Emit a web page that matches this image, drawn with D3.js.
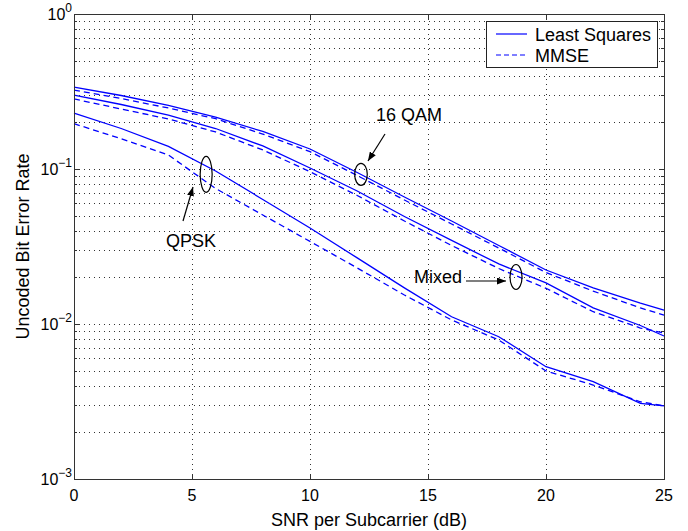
<!DOCTYPE html>
<html>
<head>
<meta charset="utf-8">
<script src="https://cdn.jsdelivr.net/npm/d3@7"></script>
<style>
  body { margin: 0; background: #fff; }
  text { font-family: "Liberation Sans", Arial, Helvetica, sans-serif; fill: #000; }
</style>
</head>
<body>
<svg id="chart" width="688" height="531"></svg>
<script>
// SNR sample points (dB)
const snr = [0, 2, 4, 6, 8, 10, 12, 14, 16, 18, 20, 22, 24, 25];

// Uncoded BER, 16 QAM
const qam16LS   = [0.338, 0.298, 0.257, 0.216, 0.1746, 0.1346, 0.0949, 0.0660, 0.0462, 0.0321, 0.0223, 0.0171, 0.01365, 0.0123];
const qam16MMSE = [0.323, 0.285, 0.2475, 0.211, 0.168, 0.1293, 0.0908, 0.0631, 0.0442, 0.0309, 0.0215, 0.0163, 0.0127, 0.0114];

// Uncoded BER, mixed modulation
const mixedLS   = [0.300, 0.2607, 0.223, 0.1825, 0.1408, 0.1015, 0.0721, 0.0494, 0.0346, 0.0244, 0.0184, 0.0127, 0.00978, 0.00837];
const mixedMMSE = [0.283, 0.2438, 0.2103, 0.1733, 0.1327, 0.0961, 0.0675, 0.0462, 0.0321, 0.0228, 0.0170, 0.0120, 0.00942, 0.00875];

// Uncoded BER, QPSK
const qpskLS    = [0.2297, 0.1825, 0.1400, 0.0971, 0.0636, 0.0416, 0.0267, 0.0171, 0.01114, 0.00828, 0.00530, 0.00425, 0.00308, 0.00296];
const qpskMMSE  = [0.1960, 0.1568, 0.1231, 0.0749, 0.0505, 0.0341, 0.0230, 0.01538, 0.01062, 0.00788, 0.00498, 0.00404, 0.00315, 0.00296];

// Axis ticks
const xTicks = [0, 5, 10, 15, 20, 25];
const yDecades = [1e-3, 1e-2, 1e-1, 1];
const yExponents = ["\u22123", "\u22122", "\u22121", "0"];

// Legend entries
const legendLabels = ["Least Squares", "MMSE"];

const svg = d3.select("#chart");
const W = 688, H = 531;
const margin = { left: 74, right: 24, top: 14, bottom: 52 };
const x = d3.scaleLinear().domain([0, 25]).range([margin.left, W - margin.right]);
const y = d3.scaleLog().domain([1e-3, 1]).range([H - margin.bottom, margin.top]);
const x0 = x.range()[0], x1 = x.range()[1], y0 = y.range()[0], y1 = y.range()[1];

svg.append("rect").attr("width", W).attr("height", H).attr("fill", "#fff");

// Minor values on the log axis
const yMinor = [];
for (let d = 0; d < yDecades.length - 1; d++) {
  for (let m = 2; m <= 9; m++) yMinor.push(yDecades[d] * m);
}
const yGrid = yMinor.concat(yDecades.slice(1, -1));

// Dotted grid
const grid = svg.append("g")
  .attr("stroke", "#333").attr("stroke-width", 1).attr("stroke-dasharray", "1,4");
grid.selectAll("line.gx").data(xTicks.slice(1, -1)).join("line")
  .attr("x1", d => Math.round(x(d)) + 0.5).attr("x2", d => Math.round(x(d)) + 0.5)
  .attr("y1", y1).attr("y2", y0);
grid.selectAll("line.gy").data(yGrid).join("line")
  .attr("x1", x0).attr("x2", x1)
  .attr("y1", d => Math.round(y(d)) + 0.5).attr("y2", d => Math.round(y(d)) + 0.5);

// Inward tick marks on all four sides
const ticks = svg.append("g").attr("stroke", "#333").attr("stroke-width", 1);
xTicks.forEach(t => {
  const px = Math.round(x(t)) + 0.5;
  ticks.append("line").attr("x1", px).attr("x2", px).attr("y1", y0).attr("y2", y0 - 5);
  ticks.append("line").attr("x1", px).attr("x2", px).attr("y1", y1).attr("y2", y1 + 5);
});
yMinor.concat(yDecades).forEach(v => {
  const py = Math.round(y(v)) + 0.5;
  const len = yDecades.includes(v) ? 5 : 3;
  ticks.append("line").attr("x1", x0).attr("x2", x0 + len).attr("y1", py).attr("y2", py);
  ticks.append("line").attr("x1", x1).attr("x2", x1 - len).attr("y1", py).attr("y2", py);
});

// Curves
const series = [
  { values: qam16LS, dash: null },
  { values: qam16MMSE, dash: "6,4" },
  { values: mixedLS, dash: null },
  { values: mixedMMSE, dash: "6,4" },
  { values: qpskLS, dash: null },
  { values: qpskMMSE, dash: "6,4" }
];
const line = d3.line().x(d => x(d[0])).y(d => y(d[1]));
svg.append("g").selectAll("path").data(series).join("path")
  .attr("d", s => line(snr.map((v, i) => [v, s.values[i]])))
  .attr("fill", "none")
  .attr("stroke", "#0000ff")
  .attr("stroke-width", 1.3)
  .attr("stroke-dasharray", s => s.dash);

// Axes box
svg.append("rect")
  .attr("x", x0 + 0.5).attr("y", y1 + 0.5)
  .attr("width", x1 - x0).attr("height", y0 - y1)
  .attr("fill", "none").attr("stroke", "#333").attr("stroke-width", 1);

// X tick labels
svg.append("g").selectAll("text").data(xTicks).join("text")
  .attr("x", d => x(d)).attr("y", y0 + 22)
  .attr("text-anchor", "middle").attr("font-size", 16)
  .text(d => d);

// Y tick labels: 10 with superscript exponent
yDecades.forEach((v, i) => {
  const t = svg.append("text")
    .attr("x", x0 - 2).attr("y", y(v) + 6)
    .attr("text-anchor", "end").attr("font-size", 16);
  t.append("tspan").text("10");
  t.append("tspan").attr("font-size", 12).attr("dy", -8).text(yExponents[i]);
});

// Axis titles
svg.append("text")
  .attr("x", (x0 + x1) / 2).attr("y", 526)
  .attr("text-anchor", "middle").attr("font-size", 18)
  .text("SNR per Subcarrier (dB)");
svg.append("text")
  .attr("transform", `translate(29,${(y0 + y1) / 2}) rotate(-90)`)
  .attr("text-anchor", "middle").attr("font-size", 18)
  .text("Uncoded Bit Error Rate");

// Legend
const lg = svg.append("g");
lg.append("rect").attr("x", 486.5).attr("y", 21.5).attr("width", 171).attr("height", 46)
  .attr("fill", "#fff").attr("stroke", "#222").attr("stroke-width", 1);
legendLabels.forEach((lab, i) => {
  const ly = 34 + i * 21;
  lg.append("line").attr("x1", 496).attr("x2", 527).attr("y1", ly).attr("y2", ly)
    .attr("stroke", "#0000ff").attr("stroke-width", 1.2)
    .attr("stroke-dasharray", i === 0 ? null : "5,3");
  lg.append("text").attr("x", 535).attr("y", ly + 6.5).attr("font-size", 18).text(lab);
});

// Annotations: ellipses around curve pairs with labelled arrows
svg.append("defs").append("marker")
  .attr("id", "arrow").attr("markerUnits", "userSpaceOnUse")
  .attr("markerWidth", 9).attr("markerHeight", 7)
  .attr("refX", 9).attr("refY", 3.5).attr("orient", "auto")
  .append("path").attr("d", "M0,0 L9,3.5 L0,7 Z").attr("fill", "#000");

const ann = svg.append("g");
function ellipse(snrVal, ber, rx, ry) {
  ann.append("ellipse").attr("cx", x(snrVal)).attr("cy", y(ber))
    .attr("rx", rx).attr("ry", ry)
    .attr("fill", "none").attr("stroke", "#000").attr("stroke-width", 1.2);
}
function arrow(ax, ay, bx, by) {
  ann.append("line").attr("x1", ax).attr("y1", ay).attr("x2", bx).attr("y2", by)
    .attr("stroke", "#000").attr("stroke-width", 1.2).attr("marker-end", "url(#arrow)");
}
// 16 QAM
ellipse(12.16, 0.0924, 6.3, 11);
arrow(385, 134, 368, 161);
ann.append("text").attr("x", 376).attr("y", 121).attr("font-size", 18).text("16 QAM");
// QPSK
ellipse(5.6, 0.0924, 6, 18);
arrow(183, 221, 193, 187);
ann.append("text").attr("x", 191).attr("y", 247).attr("text-anchor", "middle").attr("font-size", 18).text("QPSK");
// Mixed
ellipse(18.73, 0.0201, 6, 12.5);
arrow(466, 281, 506, 281);
ann.append("text").attr("x", 414).attr("y", 283).attr("font-size", 18).text("Mixed");
</script>
</body>
</html>
